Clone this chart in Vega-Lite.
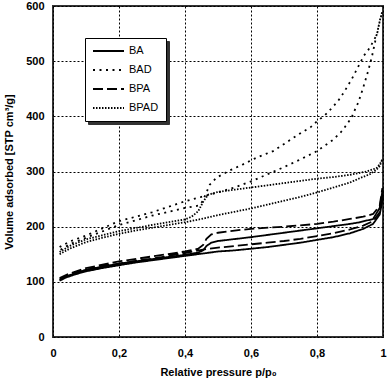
{
  "$schema": "https://vega.github.io/schema/vega-lite/v6.json",
  "width": 330,
  "height": 331,
  "autosize": {"type": "none"},
  "padding": {"left": 53, "top": 6, "right": 5, "bottom": 51},
  "background": "white",
  "config": {"view": {"stroke": "#333", "strokeWidth": 2}, "font": "Liberation Sans"},
  "data": {"values": [
    {"s":"BA","i":0,"p":0.02,"v":102},{"s":"BA","i":1,"p":0.04,"v":108},{"s":"BA","i":2,"p":0.07,"v":114},{"s":"BA","i":3,"p":0.1,"v":119},{"s":"BA","i":4,"p":0.15,"v":125},{"s":"BA","i":5,"p":0.2,"v":130},{"s":"BA","i":6,"p":0.25,"v":135},{"s":"BA","i":7,"p":0.3,"v":139},{"s":"BA","i":8,"p":0.35,"v":143},{"s":"BA","i":9,"p":0.4,"v":147},{"s":"BA","i":10,"p":0.45,"v":151},{"s":"BA","i":11,"p":0.5,"v":155},{"s":"BA","i":12,"p":0.55,"v":157},{"s":"BA","i":13,"p":0.6,"v":160},{"s":"BA","i":14,"p":0.65,"v":163},{"s":"BA","i":15,"p":0.7,"v":167},{"s":"BA","i":16,"p":0.75,"v":171},{"s":"BA","i":17,"p":0.8,"v":176},{"s":"BA","i":18,"p":0.85,"v":181},{"s":"BA","i":19,"p":0.9,"v":188},{"s":"BA","i":20,"p":0.94,"v":196},{"s":"BA","i":21,"p":0.97,"v":205},{"s":"BA","i":22,"p":0.99,"v":222},{"s":"BA","i":23,"p":1.0,"v":252},{"s":"BA","i":24,"p":0.998,"v":264},{"s":"BA","i":25,"p":0.99,"v":234},{"s":"BA","i":26,"p":0.97,"v":214},{"s":"BA","i":27,"p":0.93,"v":208},{"s":"BA","i":28,"p":0.9,"v":205},{"s":"BA","i":29,"p":0.85,"v":201},{"s":"BA","i":30,"p":0.8,"v":197},{"s":"BA","i":31,"p":0.7,"v":189},{"s":"BA","i":32,"p":0.6,"v":181},{"s":"BA","i":33,"p":0.5,"v":174},{"s":"BA","i":34,"p":0.48,"v":171},{"s":"BA","i":35,"p":0.465,"v":165},{"s":"BA","i":36,"p":0.455,"v":157},{"s":"BA","i":37,"p":0.44,"v":153},{"s":"BA","i":38,"p":0.4,"v":149},{"s":"BA","i":39,"p":0.3,"v":141},{"s":"BA","i":40,"p":0.2,"v":133},{"s":"BA","i":41,"p":0.1,"v":122},{"s":"BA","i":42,"p":0.05,"v":112},{"s":"BA","i":43,"p":0.02,"v":104},
    {"s":"BPA","i":0,"p":0.02,"v":104},{"s":"BPA","i":1,"p":0.04,"v":110},{"s":"BPA","i":2,"p":0.07,"v":116},{"s":"BPA","i":3,"p":0.1,"v":121},{"s":"BPA","i":4,"p":0.15,"v":128},{"s":"BPA","i":5,"p":0.2,"v":133},{"s":"BPA","i":6,"p":0.25,"v":138},{"s":"BPA","i":7,"p":0.3,"v":142},{"s":"BPA","i":8,"p":0.35,"v":147},{"s":"BPA","i":9,"p":0.4,"v":152},{"s":"BPA","i":10,"p":0.45,"v":158},{"s":"BPA","i":11,"p":0.5,"v":162},{"s":"BPA","i":12,"p":0.55,"v":165},{"s":"BPA","i":13,"p":0.6,"v":168},{"s":"BPA","i":14,"p":0.65,"v":171},{"s":"BPA","i":15,"p":0.7,"v":174},{"s":"BPA","i":16,"p":0.75,"v":178},{"s":"BPA","i":17,"p":0.8,"v":183},{"s":"BPA","i":18,"p":0.85,"v":188},{"s":"BPA","i":19,"p":0.9,"v":195},{"s":"BPA","i":20,"p":0.94,"v":202},{"s":"BPA","i":21,"p":0.97,"v":210},{"s":"BPA","i":22,"p":0.99,"v":226},{"s":"BPA","i":23,"p":1.0,"v":262},{"s":"BPA","i":24,"p":0.998,"v":270},{"s":"BPA","i":25,"p":0.99,"v":238},{"s":"BPA","i":26,"p":0.97,"v":223},{"s":"BPA","i":27,"p":0.94,"v":218},{"s":"BPA","i":28,"p":0.9,"v":214},{"s":"BPA","i":29,"p":0.85,"v":209},{"s":"BPA","i":30,"p":0.8,"v":205},{"s":"BPA","i":31,"p":0.7,"v":200},{"s":"BPA","i":32,"p":0.6,"v":196},{"s":"BPA","i":33,"p":0.55,"v":193},{"s":"BPA","i":34,"p":0.5,"v":189},{"s":"BPA","i":35,"p":0.48,"v":186},{"s":"BPA","i":36,"p":0.465,"v":178},{"s":"BPA","i":37,"p":0.455,"v":167},{"s":"BPA","i":38,"p":0.44,"v":160},{"s":"BPA","i":39,"p":0.4,"v":155},{"s":"BPA","i":40,"p":0.3,"v":146},{"s":"BPA","i":41,"p":0.2,"v":137},{"s":"BPA","i":42,"p":0.1,"v":125},{"s":"BPA","i":43,"p":0.05,"v":115},{"s":"BPA","i":44,"p":0.02,"v":107},
    {"s":"BAD","i":0,"p":0.02,"v":163},{"s":"BAD","i":1,"p":0.05,"v":173},{"s":"BAD","i":2,"p":0.1,"v":184},{"s":"BAD","i":3,"p":0.15,"v":197},{"s":"BAD","i":4,"p":0.2,"v":210},{"s":"BAD","i":5,"p":0.25,"v":218},{"s":"BAD","i":6,"p":0.3,"v":226},{"s":"BAD","i":7,"p":0.35,"v":236},{"s":"BAD","i":8,"p":0.4,"v":246},{"s":"BAD","i":9,"p":0.45,"v":254},{"s":"BAD","i":10,"p":0.5,"v":262},{"s":"BAD","i":11,"p":0.55,"v":271},{"s":"BAD","i":12,"p":0.6,"v":282},{"s":"BAD","i":13,"p":0.65,"v":295},{"s":"BAD","i":14,"p":0.7,"v":308},{"s":"BAD","i":15,"p":0.75,"v":322},{"s":"BAD","i":16,"p":0.8,"v":337},{"s":"BAD","i":17,"p":0.85,"v":358},{"s":"BAD","i":18,"p":0.875,"v":373},{"s":"BAD","i":19,"p":0.89,"v":385},{"s":"BAD","i":20,"p":0.905,"v":398},{"s":"BAD","i":21,"p":0.915,"v":412},{"s":"BAD","i":22,"p":0.925,"v":425},{"s":"BAD","i":23,"p":0.94,"v":452},{"s":"BAD","i":24,"p":0.955,"v":482},{"s":"BAD","i":25,"p":0.966,"v":507},{"s":"BAD","i":26,"p":0.98,"v":546},{"s":"BAD","i":27,"p":0.99,"v":572},{"s":"BAD","i":28,"p":0.998,"v":590},{"s":"BAD","i":29,"p":0.99,"v":573},{"s":"BAD","i":30,"p":0.982,"v":549},{"s":"BAD","i":31,"p":0.969,"v":534},{"s":"BAD","i":32,"p":0.955,"v":520},{"s":"BAD","i":33,"p":0.942,"v":510},{"s":"BAD","i":34,"p":0.93,"v":496},{"s":"BAD","i":35,"p":0.905,"v":467},{"s":"BAD","i":36,"p":0.88,"v":442},{"s":"BAD","i":37,"p":0.864,"v":428},{"s":"BAD","i":38,"p":0.845,"v":415},{"s":"BAD","i":39,"p":0.824,"v":402},{"s":"BAD","i":40,"p":0.8,"v":391},{"s":"BAD","i":41,"p":0.78,"v":380},{"s":"BAD","i":42,"p":0.754,"v":371},{"s":"BAD","i":43,"p":0.708,"v":353},{"s":"BAD","i":44,"p":0.667,"v":337},{"s":"BAD","i":45,"p":0.62,"v":326},{"s":"BAD","i":46,"p":0.576,"v":313},{"s":"BAD","i":47,"p":0.536,"v":302},{"s":"BAD","i":48,"p":0.496,"v":289},{"s":"BAD","i":49,"p":0.475,"v":276},{"s":"BAD","i":50,"p":0.462,"v":258},{"s":"BAD","i":51,"p":0.45,"v":243},{"s":"BAD","i":52,"p":0.44,"v":238},{"s":"BAD","i":53,"p":0.4,"v":234},{"s":"BAD","i":54,"p":0.3,"v":220},{"s":"BAD","i":55,"p":0.2,"v":203},{"s":"BAD","i":56,"p":0.1,"v":180},{"s":"BAD","i":57,"p":0.05,"v":168},{"s":"BAD","i":58,"p":0.02,"v":157},
    {"s":"BPAD","i":0,"p":0.02,"v":150},{"s":"BPAD","i":1,"p":0.05,"v":160},{"s":"BPAD","i":2,"p":0.1,"v":172},{"s":"BPAD","i":3,"p":0.15,"v":180},{"s":"BPAD","i":4,"p":0.2,"v":187},{"s":"BPAD","i":5,"p":0.25,"v":193},{"s":"BPAD","i":6,"p":0.3,"v":198},{"s":"BPAD","i":7,"p":0.35,"v":203},{"s":"BPAD","i":8,"p":0.4,"v":208},{"s":"BPAD","i":9,"p":0.45,"v":214},{"s":"BPAD","i":10,"p":0.5,"v":221},{"s":"BPAD","i":11,"p":0.55,"v":227},{"s":"BPAD","i":12,"p":0.6,"v":233},{"s":"BPAD","i":13,"p":0.65,"v":240},{"s":"BPAD","i":14,"p":0.7,"v":247},{"s":"BPAD","i":15,"p":0.75,"v":254},{"s":"BPAD","i":16,"p":0.8,"v":262},{"s":"BPAD","i":17,"p":0.85,"v":271},{"s":"BPAD","i":18,"p":0.9,"v":280},{"s":"BPAD","i":19,"p":0.93,"v":288},{"s":"BPAD","i":20,"p":0.96,"v":295},{"s":"BPAD","i":21,"p":0.98,"v":303},{"s":"BPAD","i":22,"p":0.99,"v":310},{"s":"BPAD","i":23,"p":0.998,"v":322},{"s":"BPAD","i":24,"p":0.99,"v":313},{"s":"BPAD","i":25,"p":0.98,"v":306},{"s":"BPAD","i":26,"p":0.95,"v":300},{"s":"BPAD","i":27,"p":0.9,"v":294},{"s":"BPAD","i":28,"p":0.85,"v":290},{"s":"BPAD","i":29,"p":0.8,"v":287},{"s":"BPAD","i":30,"p":0.75,"v":283},{"s":"BPAD","i":31,"p":0.7,"v":279},{"s":"BPAD","i":32,"p":0.65,"v":275},{"s":"BPAD","i":33,"p":0.6,"v":271},{"s":"BPAD","i":34,"p":0.55,"v":267},{"s":"BPAD","i":35,"p":0.5,"v":263},{"s":"BPAD","i":36,"p":0.47,"v":258},{"s":"BPAD","i":37,"p":0.455,"v":245},{"s":"BPAD","i":38,"p":0.44,"v":228},{"s":"BPAD","i":39,"p":0.42,"v":218},{"s":"BPAD","i":40,"p":0.4,"v":213},{"s":"BPAD","i":41,"p":0.3,"v":203},{"s":"BPAD","i":42,"p":0.2,"v":192},{"s":"BPAD","i":43,"p":0.1,"v":177},{"s":"BPAD","i":44,"p":0.05,"v":165},{"s":"BPAD","i":45,"p":0.02,"v":154}
  ]},
  "mark": {"type": "line", "color": "black", "strokeWidth": 1.8, "strokeCap": "butt"},
  "encoding": {
    "x": {
      "field": "p", "type": "quantitative",
      "scale": {"domain": [0, 1], "nice": false},
      "axis": {
        "title": "Relative pressure p/p₀",
        "values": [0, 0.2, 0.4, 0.6, 0.8, 1],
        "labelExpr": "datum.value == 0 ? '0' : datum.value == 1 ? '1' : replace(format(datum.value, '.1f'), '.', ',')",
        "grid": true, "gridDash": [2, 2], "gridColor": "#000", "gridWidth": 1,
        "domain": false, "ticks": false, "tickSize": 0,
        "labelFlush": false, "labelPadding": 10,
        "labelFont": "Liberation Sans", "labelFontWeight": "bold", "labelFontSize": 11, "labelColor": "#000",
        "titleFont": "Liberation Sans", "titleFontWeight": "bold", "titleFontSize": 11, "titleColor": "#000", "titlePadding": 8
      }
    },
    "y": {
      "field": "v", "type": "quantitative",
      "scale": {"domain": [0, 600], "nice": false},
      "axis": {
        "title": "Volume adsorbed [STP cm³/g]",
        "values": [0, 100, 200, 300, 400, 500, 600],
        "grid": true, "gridDash": [2, 2], "gridColor": "#000", "gridWidth": 1,
        "domain": false, "ticks": false, "tickSize": 0,
        "labelFlush": false, "labelPadding": 9,
        "labelFont": "Liberation Sans", "labelFontWeight": "bold", "labelFontSize": 11, "labelColor": "#000",
        "titleFont": "Liberation Sans", "titleFontWeight": "bold", "titleFontSize": 11, "titleColor": "#000", "titlePadding": 11
      }
    },
    "order": {"field": "i", "type": "quantitative"},
    "opacity": {
      "field": "s", "type": "nominal",
      "scale": {"domain": ["BA", "BAD", "BPA", "BPAD"], "range": [1, 1, 1, 1]},
      "legend": {
        "title": null, "orient": "top-left", "offset": 35, "zindex": 1,
        "symbolType": "stroke", "symbolSize": 961, "symbolStrokeWidth": 1.8, "symbolStrokeColor": "#333",
        "clipHeight": 12, "rowPadding": 7, "padding": 7,
        "fillColor": "#333", "strokeColor": "#333",
        "labelExpr": "''",
        "labelFont": "Liberation Sans", "labelFontSize": 11, "labelColor": "#333", "labelOffset": 34
      }
    },
    "strokeDash": {
      "field": "s", "type": "nominal",
      "scale": {"domain": ["BA", "BAD", "BPA", "BPAD"], "range": [[1, 0], [2, 4.5], [10, 4], [1.5, 1.5]]},
      "legend": {
        "title": null, "orient": "none", "legendX": 32, "legendY": 32, "zindex": 2,
        "symbolType": "stroke", "symbolSize": 961, "symbolStrokeWidth": 1.8, "symbolStrokeColor": "black",
        "clipHeight": 12, "rowPadding": 7, "padding": 7,
        "fillColor": "white", "strokeColor": "#000",
        "labelFont": "Liberation Sans", "labelFontSize": 11, "labelColor": "#000", "labelOffset": 4
      }
    }
  }
}
